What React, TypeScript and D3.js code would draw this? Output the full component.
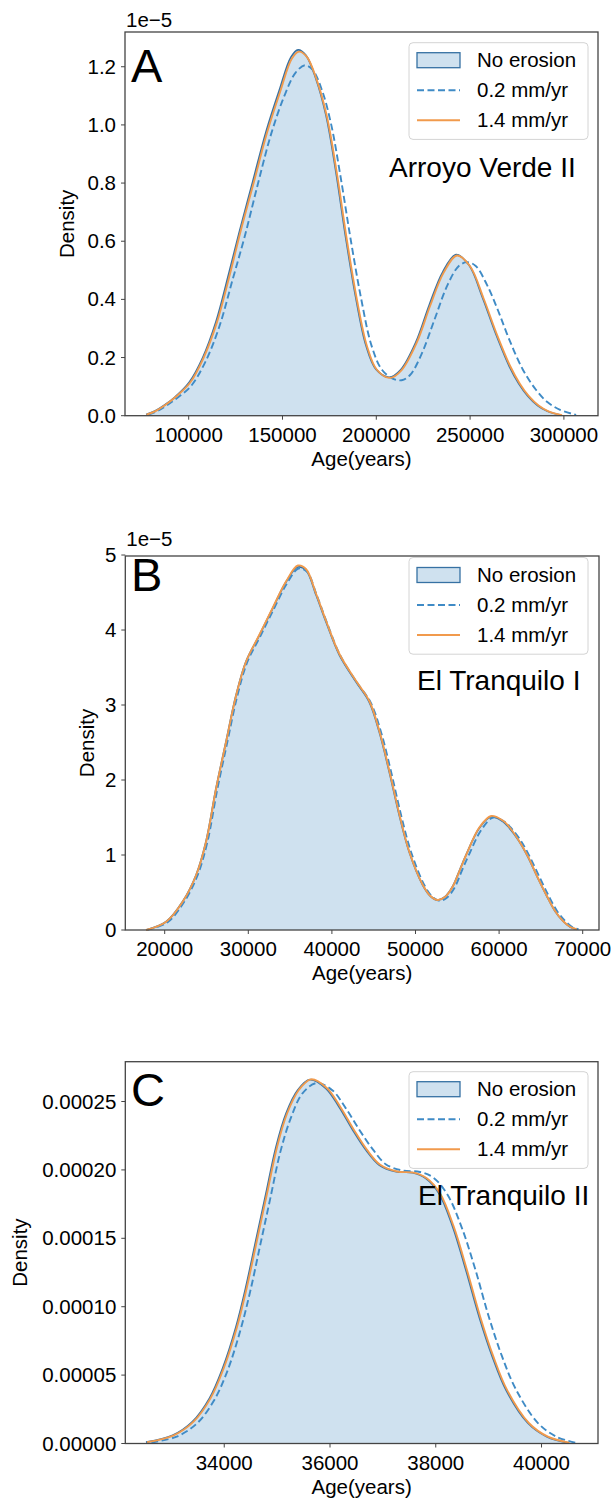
import React from "react";
import * as d3 from "d3";

// densities are in units of 1e-5
const noErosionA: [number, number][] = [
  [77300, 0.004], [82000, 0.016], [87000, 0.036], [93000, 0.066], [100300, 0.115], [107500, 0.2],
  [114500, 0.322], [121600, 0.494], [127000, 0.632], [134100, 0.804], [141200, 0.976],
  [148300, 1.119], [154500, 1.233], [158300, 1.258], [162500, 1.239], [167800, 1.159],
  [173200, 1.033], [178500, 0.838], [183800, 0.609], [189200, 0.402], [194500, 0.242],
  [199800, 0.16], [206900, 0.132], [213000, 0.158], [221100, 0.253], [228200, 0.38],
  [235400, 0.494], [242500, 0.554], [249500, 0.517], [256700, 0.405], [263800, 0.28],
  [270900, 0.17], [276000, 0.11], [280700, 0.068], [286000, 0.035], [291000, 0.016], [298400, 0.002],
];
const erosion02A: [number, number][] = [
  [78500, 0.004], [83000, 0.015], [88000, 0.034], [94000, 0.062], [101000, 0.1], [108500, 0.18],
  [116000, 0.3], [123500, 0.47], [130000, 0.62], [137000, 0.8], [144000, 0.97], [151000, 1.1],
  [157000, 1.18], [162000, 1.205], [166000, 1.19], [171000, 1.12], [176000, 1.0], [181000, 0.82],
  [186500, 0.6], [192000, 0.4], [197500, 0.24], [203000, 0.158], [209000, 0.127], [213500, 0.122],
  [218000, 0.14], [224000, 0.21], [231000, 0.33], [238000, 0.45], [244000, 0.515], [248500, 0.528],
  [253000, 0.515], [259000, 0.45], [265000, 0.36], [271000, 0.26], [278000, 0.16], [285000, 0.09],
  [291000, 0.048], [298000, 0.02], [306500, 0.003],
];
const erosion14A: [number, number][] = [
  [77500, 0.004], [82300, 0.016], [87300, 0.036], [93300, 0.066], [100800, 0.114], [108000, 0.2],
  [115000, 0.32], [122100, 0.49], [127500, 0.63], [134600, 0.8], [141700, 0.972], [148800, 1.115],
  [155000, 1.228], [158800, 1.252], [163000, 1.234], [168300, 1.154], [173700, 1.028],
  [179000, 0.833], [184300, 0.605], [189700, 0.398], [195000, 0.24], [200300, 0.158],
  [207400, 0.13], [213500, 0.157], [221600, 0.252], [228700, 0.378], [235900, 0.492],
  [243000, 0.551], [250000, 0.514], [257200, 0.403], [264300, 0.279], [271400, 0.17],
  [276500, 0.11], [281200, 0.068], [286500, 0.035], [291500, 0.016], [299000, 0.002],
];

const noErosionB: [number, number][] = [
  [17760, 0.0], [20160, 0.11], [22150, 0.38], [23740, 0.73], [24940, 1.18], [26140, 1.89],
  [27330, 2.51], [28530, 3.13], [29720, 3.58], [31320, 3.93], [32920, 4.29], [34510, 4.64],
  [35910, 4.84], [36900, 4.8], [38100, 4.47], [39290, 4.11], [40880, 3.67], [42880, 3.31],
  [44470, 3.04], [45670, 2.64], [46860, 2.11], [48060, 1.53], [49250, 1.04], [50860, 0.6],
  [51800, 0.45], [52650, 0.4], [53500, 0.44], [54440, 0.58], [55250, 0.79], [56040, 1.0],
  [57630, 1.36], [59030, 1.51], [60420, 1.45], [61080, 1.38], [62300, 1.2], [63430, 0.98],
  [64600, 0.7], [65760, 0.44], [66700, 0.25], [67630, 0.12], [68500, 0.04], [69260, 0.01],
];
const erosion02B: [number, number][] = [
  [17900, 0.0], [20300, 0.1], [22300, 0.37], [23900, 0.72], [25100, 1.17], [26300, 1.88],
  [27480, 2.5], [28680, 3.12], [29870, 3.57], [31450, 3.92], [33050, 4.28], [34620, 4.62],
  [36000, 4.82], [37000, 4.78], [38200, 4.46], [39400, 4.1], [41000, 3.66], [43000, 3.3],
  [44650, 3.03], [45900, 2.63], [47100, 2.1], [48300, 1.52], [49500, 1.03], [51100, 0.59],
  [52050, 0.44], [52900, 0.39], [53750, 0.43], [54700, 0.57], [55500, 0.78], [56300, 0.98],
  [57900, 1.34], [59300, 1.5], [60700, 1.44], [61350, 1.37], [62600, 1.19], [63700, 0.97],
  [64900, 0.69], [66000, 0.44], [66950, 0.25], [67900, 0.12], [68750, 0.04], [69500, 0.01],
];
const erosion14B: [number, number][] = [
  [17780, 0.0], [20180, 0.11], [22170, 0.38], [23760, 0.73], [24960, 1.18], [26160, 1.89],
  [27350, 2.51], [28550, 3.13], [29740, 3.58], [31340, 3.94], [32940, 4.3], [34530, 4.65],
  [35930, 4.86], [36920, 4.81], [38120, 4.48], [39310, 4.12], [40900, 3.68], [42900, 3.32],
  [44490, 3.05], [45690, 2.65], [46880, 2.12], [48080, 1.54], [49270, 1.04], [50880, 0.6],
  [51820, 0.45], [52670, 0.4], [53520, 0.44], [54460, 0.58], [55270, 0.79], [56060, 1.0],
  [57650, 1.37], [59050, 1.52], [60440, 1.46], [61100, 1.39], [62320, 1.2], [63450, 0.98],
  [64620, 0.7], [65780, 0.44], [66720, 0.25], [67650, 0.12], [68520, 0.04], [69280, 0.01],
];

const noErosionC: [number, number][] = [
  [32520, 0.1], [33025, 0.6], [33400, 1.6], [33720, 3.3], [33970, 5.5], [34220, 8.5],
  [34410, 11.46], [34600, 14.88], [34790, 18.29], [34980, 21.7], [35170, 24.14], [35390, 25.84],
  [35620, 26.6], [35920, 25.97], [36170, 24.62], [36430, 22.92], [36680, 21.45], [36930, 20.36],
  [37250, 19.87], [37560, 19.8], [37810, 19.39], [38060, 18.29], [38320, 15.85], [38570, 12.68],
  [38820, 9.27], [39070, 6.35], [39330, 3.9], [39740, 1.5], [40100, 0.5], [40510, 0.05],
];
const erosion02C: [number, number][] = [
  [32620, 0.08], [33100, 0.5], [33480, 1.45], [33800, 3.1], [34050, 5.2], [34300, 8.2],
  [34490, 11.1], [34680, 14.5], [34870, 17.9], [35060, 21.3], [35260, 23.8], [35480, 25.6],
  [35750, 26.35], [36050, 25.8], [36300, 24.5], [36560, 22.9], [36810, 21.5], [37060, 20.4],
  [37380, 19.95], [37700, 19.85], [37950, 19.45], [38220, 18.2], [38490, 15.8], [38750, 12.7],
  [39000, 9.3], [39250, 6.4], [39510, 4.0], [39920, 1.55], [40280, 0.5], [40660, 0.05],
];
const erosion14C: [number, number][] = [
  [32540, 0.1], [33045, 0.6], [33420, 1.6], [33740, 3.3], [33990, 5.5], [34240, 8.5],
  [34430, 11.46], [34620, 14.88], [34810, 18.29], [35000, 21.7], [35190, 24.14], [35410, 25.84],
  [35640, 26.62], [35940, 25.99], [36190, 24.64], [36450, 22.94], [36700, 21.46], [36950, 20.37],
  [37270, 19.88], [37580, 19.8], [37830, 19.39], [38080, 18.29], [38340, 15.85], [38590, 12.68],
  [38840, 9.27], [39090, 6.35], [39350, 3.9], [39760, 1.5], [40120, 0.5], [40530, 0.05],
];

const legendLabels = ["No erosion", "0.2 mm/yr", "1.4 mm/yr"];

const xTicksA = [100000, 150000, 200000, 250000, 300000];
const yTicksA = [0, 0.2, 0.4, 0.6, 0.8, 1.0, 1.2];
const xTicksB = [20000, 30000, 40000, 50000, 60000, 70000];
const yTicksB = [0, 1, 2, 3, 4, 5];
const xTicksC = [34000, 36000, 38000, 40000];
const yTicksC = [0, 5, 10, 15, 20, 25];

const FONT = "'Liberation Sans', Arial, Helvetica, sans-serif";
const FILL = "#cfe1ef";
const EDGE = "#3671a3";
const DASH = "#3f8bc6";
const ORANGE = "#f19a4c";
const FRAME = "#444";

type PanelProps = {
  x0: number; x1: number; y0: number; y1: number;
  xDomain: [number, number]; yDomain: [number, number];
  xTicks: number[]; yTicks: number[];
  yFmt: (d: number) => string;
  offsetText?: string; offsetY?: number;
  letter: string; letterY: number;
  site: string; siteX: number; siteY: number;
  densityX: number; legendTop: number;
  base: [number, number][]; dashed: [number, number][]; orange: [number, number][];
};

const Panel = (p: PanelProps) => {
  const x = d3.scaleLinear().domain(p.xDomain).range([p.x0, p.x1]);
  const y = d3.scaleLinear().domain(p.yDomain).range([p.y1, p.y0]);
  const curve = d3.curveCatmullRom.alpha(0.5);
  const line = d3.line<[number, number]>().x(d => x(d[0])).y(d => y(d[1])).curve(curve);
  const area = d3.area<[number, number]>().x(d => x(d[0])).y0(y(0)).y1(d => y(d[1])).curve(curve);
  const lx = 409, lw = 179, lh = 96.7;
  const rows = [p.legendTop + 17.5, p.legendTop + 47.5, p.legendTop + 77.5];
  return (
    <g fontFamily={FONT}>
      <path d={area(p.base) || ""} fill={FILL} />
      <path d={line(p.base) || ""} fill="none" stroke={EDGE} strokeWidth={1.7} />
      <path d={line(p.dashed) || ""} fill="none" stroke={DASH} strokeWidth={1.9} strokeDasharray="7,3.5" />
      <path d={line(p.orange) || ""} fill="none" stroke={ORANGE} strokeWidth={1.9} />
      <rect x={p.x0} y={p.y0} width={p.x1 - p.x0} height={p.y1 - p.y0} fill="none" stroke={FRAME} strokeWidth={1.3} />
      {p.xTicks.map(t => (
        <g key={"x" + t}>
          <line x1={x(t)} x2={x(t)} y1={p.y1} y2={p.y1 + 4} stroke={FRAME} strokeWidth={1} />
          <text x={x(t)} y={p.y1 + 26} textAnchor="middle" fontSize={20.5}>{t}</text>
        </g>
      ))}
      {p.yTicks.map(t => (
        <g key={"y" + t}>
          <line x1={p.x0 - 4} x2={p.x0} y1={y(t)} y2={y(t)} stroke={FRAME} strokeWidth={1} />
          <text x={p.x0 - 9} y={y(t) + 7} textAnchor="end" fontSize={20.5}>{p.yFmt(t)}</text>
        </g>
      ))}
      {p.offsetText && <text x={p.x0 + 1} y={p.offsetY} fontSize={20.5}>{p.offsetText}</text>}
      <text x={(p.x0 + p.x1) / 2} y={p.y1 + 50} textAnchor="middle" fontSize={20.5}>Age(years)</text>
      <text transform={`translate(${p.densityX},${(p.y0 + p.y1) / 2}) rotate(-90)`} textAnchor="middle" fontSize={20.5}>Density</text>
      <text x={131} y={p.letterY} fontSize={47}>{p.letter}</text>
      <text x={p.siteX} y={p.siteY} fontSize={28}>{p.site}</text>
      <rect x={lx} y={p.legendTop} width={lw} height={lh} rx={4} fill="white" fillOpacity={0.85} stroke="#d4d4d4" strokeWidth={1} />
      <rect x={417} y={rows[0] - 7.5} width={43} height={15} fill={FILL} stroke={EDGE} strokeWidth={1.3} />
      <line x1={417} x2={460} y1={rows[1]} y2={rows[1]} stroke={DASH} strokeWidth={1.9} strokeDasharray="7,3.5" />
      <line x1={417} x2={460} y1={rows[2]} y2={rows[2]} stroke={ORANGE} strokeWidth={1.9} />
      {legendLabels.map((l, i) => (
        <text key={l} x={477} y={rows[i] + 7} fontSize={20.5}>{l}</text>
      ))}
    </g>
  );
};

export default function App() {
  return (
    <div style={{ position: "absolute", left: 0, top: 0, background: "white" }}>
      <svg width={613} height={1506} style={{ display: "block" }}>
        <rect width={613} height={1506} fill="white" />
        <Panel
          x0={125} x1={598} y0={32} y1={415.7}
          xDomain={[66045, 318177]} yDomain={[0, 1.3195]}
          xTicks={xTicksA} yTicks={yTicksA} yFmt={d => d.toFixed(1)}
          offsetText="1e−5" offsetY={27}
          letter="A" letterY={82}
          site="Arroyo Verde II" siteX={389} siteY={177}
          densityX={74} legendTop={42.7}
          base={noErosionA} dashed={erosion02A} orange={erosion14A}
        />
        <Panel
          x0={125.3} x1={599} y0={556} y1={930}
          xDomain={[15287, 71950]} yDomain={[0, 4.987]}
          xTicks={xTicksB} yTicks={yTicksB} yFmt={d => String(d)}
          offsetText="1e−5" offsetY={546}
          letter="B" letterY={591}
          site="El Tranquilo I" siteX={417} siteY={690}
          densityX={94} legendTop={557.5}
          base={noErosionB} dashed={erosion02B} orange={erosion14B}
        />
        <Panel
          x0={125.3} x1={598} y0={1061.7} y1={1443.5}
          xDomain={[32129, 41068]} yDomain={[0, 27.91]}
          xTicks={xTicksC} yTicks={yTicksC} yFmt={d => (d * 1e-5).toFixed(5)}
          letter="C" letterY={1106}
          site="El Tranquilo II" siteX={418} siteY={1205}
          densityX={27} legendTop={1071.7}
          base={noErosionC} dashed={erosion02C} orange={erosion14C}
        />
      </svg>
    </div>
  );
}
